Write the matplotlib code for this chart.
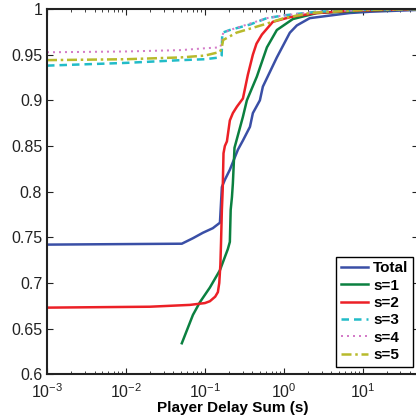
import matplotlib
matplotlib.use("Agg")
import matplotlib.pyplot as plt
from matplotlib.ticker import LogLocator, FixedLocator

plt.rcParams['font.family'] = ['Liberation Sans', 'DejaVu Sans']

total_x = [0.001, 0.051, 0.0705, 0.0944, 0.126, 0.155, 0.164, 0.179, 0.207, 0.262, 0.303, 0.372, 0.405, 0.497, 0.542, 0.815, 1.19, 1.46, 2.13, 6.84, 12.3, 50]
total_y = [0.742, 0.743, 0.749, 0.755, 0.760, 0.766, 0.805, 0.813, 0.824, 0.846, 0.856, 0.871, 0.886, 0.900, 0.915, 0.947, 0.974, 0.982, 0.990, 0.9956, 0.997, 0.999]

s1_x = [0.051, 0.0705, 0.0865, 0.1156, 0.155, 0.195, 0.207, 0.212, 0.220, 0.226, 0.237, 0.303, 0.340, 0.455, 0.610, 0.815, 1.30, 2.62, 10, 50]
s1_y = [0.634, 0.665, 0.679, 0.695, 0.714, 0.737, 0.745, 0.780, 0.794, 0.809, 0.848, 0.882, 0.900, 0.926, 0.958, 0.977, 0.989, 0.9956, 0.998, 1.0]

s2_x = [0.001, 0.0201, 0.0646, 0.1, 0.1156, 0.135, 0.146, 0.152, 0.157, 0.160, 0.164, 0.168, 0.172, 0.179, 0.190, 0.207, 0.226, 0.254, 0.303, 0.350, 0.405, 0.45, 0.527, 0.726, 1.19, 1.60, 2.62, 6.84, 50]
s2_y = [0.673, 0.674, 0.676, 0.678, 0.680, 0.685, 0.690, 0.700, 0.720, 0.744, 0.780, 0.802, 0.842, 0.850, 0.855, 0.878, 0.886, 0.893, 0.902, 0.928, 0.950, 0.962, 0.972, 0.986, 0.991, 0.993, 0.9956, 0.998, 1.0]

s3_x = [0.001, 0.01, 0.05, 0.1, 0.155, 0.163, 0.166, 0.207, 0.372, 0.610, 1.0, 2.62, 10, 50]
s3_y = [0.938, 0.941, 0.944, 0.945, 0.947, 0.949, 0.974, 0.977, 0.983, 0.990, 0.993, 0.997, 0.999, 1.0]

s4_x = [0.001, 0.01, 0.05, 0.1, 0.155, 0.163, 0.170, 0.207, 0.372, 0.610, 1.0, 2.62, 10, 50]
s4_y = [0.9526, 0.9535, 0.955, 0.957, 0.958, 0.962, 0.974, 0.977, 0.984, 0.990, 0.993, 0.997, 0.999, 1.0]

s5_x = [0.001, 0.01, 0.05, 0.1, 0.155, 0.163, 0.170, 0.25, 0.61, 1.0, 2.13, 10, 50]
s5_y = [0.944, 0.945, 0.947, 0.949, 0.953, 0.957, 0.966, 0.974, 0.984, 0.990, 0.9956, 0.999, 1.0]

labels = ['Total', 's=1', 's=2', 's=3', 's=4', 's=5']
yticks = [0.6, 0.65, 0.7, 0.75, 0.8, 0.85, 0.9, 0.95, 1]
ytick_labels = ['0.6', '0.65', '0.7', '0.75', '0.8', '0.85', '0.9', '0.95', '1']

fig = plt.figure(figsize=(4.16, 4.15), dpi=100)
ax = fig.add_axes([47/416, 1-374.3/415, (418-47)/416, (374.3-9)/415])

lw = 1.8
ax.plot(total_x, total_y, color='#3a4fa6', lw=lw, label=labels[0])
ax.plot(s1_x, s1_y, color='#0b8040', lw=lw, label=labels[1])
ax.plot(s2_x, s2_y, color='#ec2026', lw=lw, label=labels[2])
ax.plot(s3_x, s3_y, color='#22bcc8', lw=lw, ls=(0, (3, 2)), label=labels[3])
ax.plot(s4_x, s4_y, color='#d47cc8', lw=lw*0.8, ls=(0, (1, 2)), label=labels[4])
ax.plot(s5_x, s5_y, color='#b8ba2c', lw=lw, ls=(0, (4, 1.5, 1, 1.5)), label=labels[5])

ax.set_xscale('log')
ax.set_xlim(1e-3, 50)
ax.set_ylim(0.6, 1.0)
ax.set_yticks(yticks)
ax.set_yticklabels(ytick_labels)
ax.xaxis.set_major_locator(FixedLocator([1e-3, 1e-2, 1e-1, 1, 10]))
ax.xaxis.set_minor_locator(LogLocator(base=10, subs=range(2, 10)))
ax.tick_params(which='both', direction='in', top=True, right=True, labelsize=11.5, colors='#222222')
ax.tick_params(axis='x', which='major', pad=6)
ax.tick_params(which='major', length=4, width=0.8)
ax.tick_params(which='minor', length=2, width=0.6)
for sp in ax.spines.values():
    sp.set_linewidth(1.5)
    sp.set_color('#222222')
ax.set_xlabel('Player Delay Sum (s)', fontsize=11, fontweight='bold', labelpad=0)

leg = ax.legend(loc='lower right', bbox_to_anchor=(413/416, 1-366.7/415), bbox_transform=fig.transFigure,
                borderaxespad=0, fancybox=False, edgecolor='black', framealpha=1,
                prop={'weight': 'bold', 'size': 11}, handlelength=1.8, handletextpad=0.3,
                labelspacing=0.22, borderpad=0.3)
leg.get_frame().set_linewidth(1.0)

fig.savefig('out.png', dpi=100)
